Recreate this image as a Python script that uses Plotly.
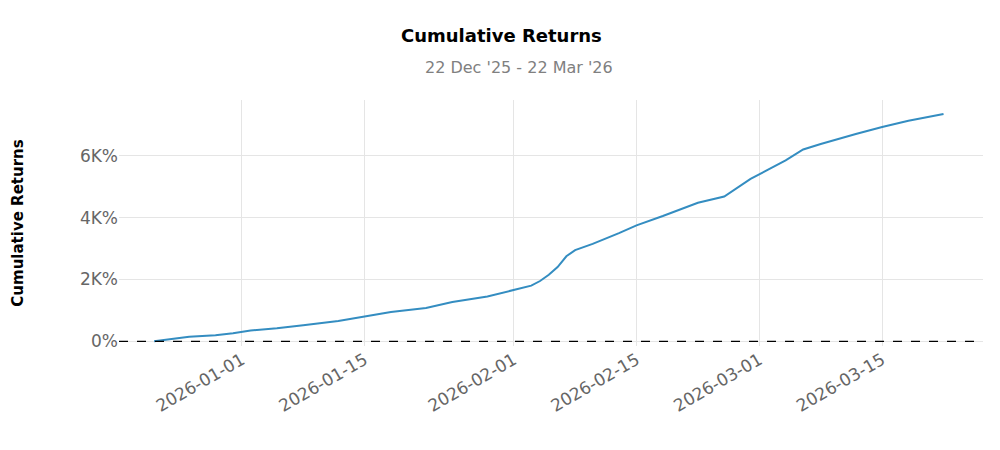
import plotly.graph_objects as go

dates = ["2025-12-22","2025-12-24","2025-12-26","2025-12-29","2025-12-31","2026-01-02","2026-01-05",
         "2026-01-08","2026-01-12","2026-01-15","2026-01-18","2026-01-22","2026-01-25","2026-01-29",
         "2026-02-01","2026-02-03","2026-02-04","2026-02-05","2026-02-06","2026-02-07","2026-02-08",
         "2026-02-10","2026-02-13","2026-02-15","2026-02-18","2026-02-22","2026-02-25","2026-02-28",
         "2026-03-02","2026-03-04","2026-03-06","2026-03-08","2026-03-12","2026-03-15","2026-03-18","2026-03-22"]
cum_returns = [0, 80, 150, 200, 260, 350, 420,
               520, 660, 800, 950, 1080, 1270, 1450,
               1650, 1800, 1950, 2150, 2400, 2750, 2950,
               3150, 3500, 3750, 4050, 4480, 4680, 5250,
               5550, 5850, 6200, 6380, 6700, 6930, 7130, 7350]
ytick_vals = [0, 2000, 4000, 6000]
ytick_text = ["0%", "2K%", "4K%", "6K%"]
xtick_vals = ["2026-01-01","2026-01-15","2026-02-01","2026-02-15","2026-03-01","2026-03-15"]

fig = go.Figure()
fig.add_trace(go.Scatter(x=dates, y=cum_returns, mode="lines",
                         line=dict(color="#348dc1", width=2), showlegend=False))
fig.add_hline(y=0, line=dict(color="black", width=1.3, dash="dash"))
fig.add_annotation(text="<b>Cumulative Returns</b>", xref="paper", yref="paper", x=0.443, y=1.0,
                   xanchor="center", yanchor="bottom", yshift=52, showarrow=False,
                   font=dict(size=18, color="black"))
fig.add_annotation(text="22 Dec '25 - 22 Mar '26", xref="paper", yref="paper", x=0.463, y=1.0,
                   xanchor="center", yanchor="bottom", yshift=21, showarrow=False,
                   font=dict(size=16, color="#808080"))
fig.update_layout(
    width=1000, height=450, plot_bgcolor="white", paper_bgcolor="white",
    font=dict(family="DejaVu Sans", color="#666", size=17),
    margin=dict(l=111, r=25, t=92, b=112, autoexpand=False),
    xaxis=dict(range=["2025-12-18 00:00","2026-03-26 12:00"], tickvals=xtick_vals, tickformat="%Y-%m-%d",
               tickangle=-30, showgrid=True, gridcolor="#e5e5e5", zeroline=False, showline=False, ticks=""),
    yaxis=dict(range=[-150, 7800], tickvals=ytick_vals, ticktext=ytick_text,
               showgrid=True, gridcolor="#e5e5e5", zeroline=False, ticks="",
               title=dict(text="<b>Cumulative Returns</b>", font=dict(color="black", size=15), standoff=52)),
)
fig.write_html("out.html")
